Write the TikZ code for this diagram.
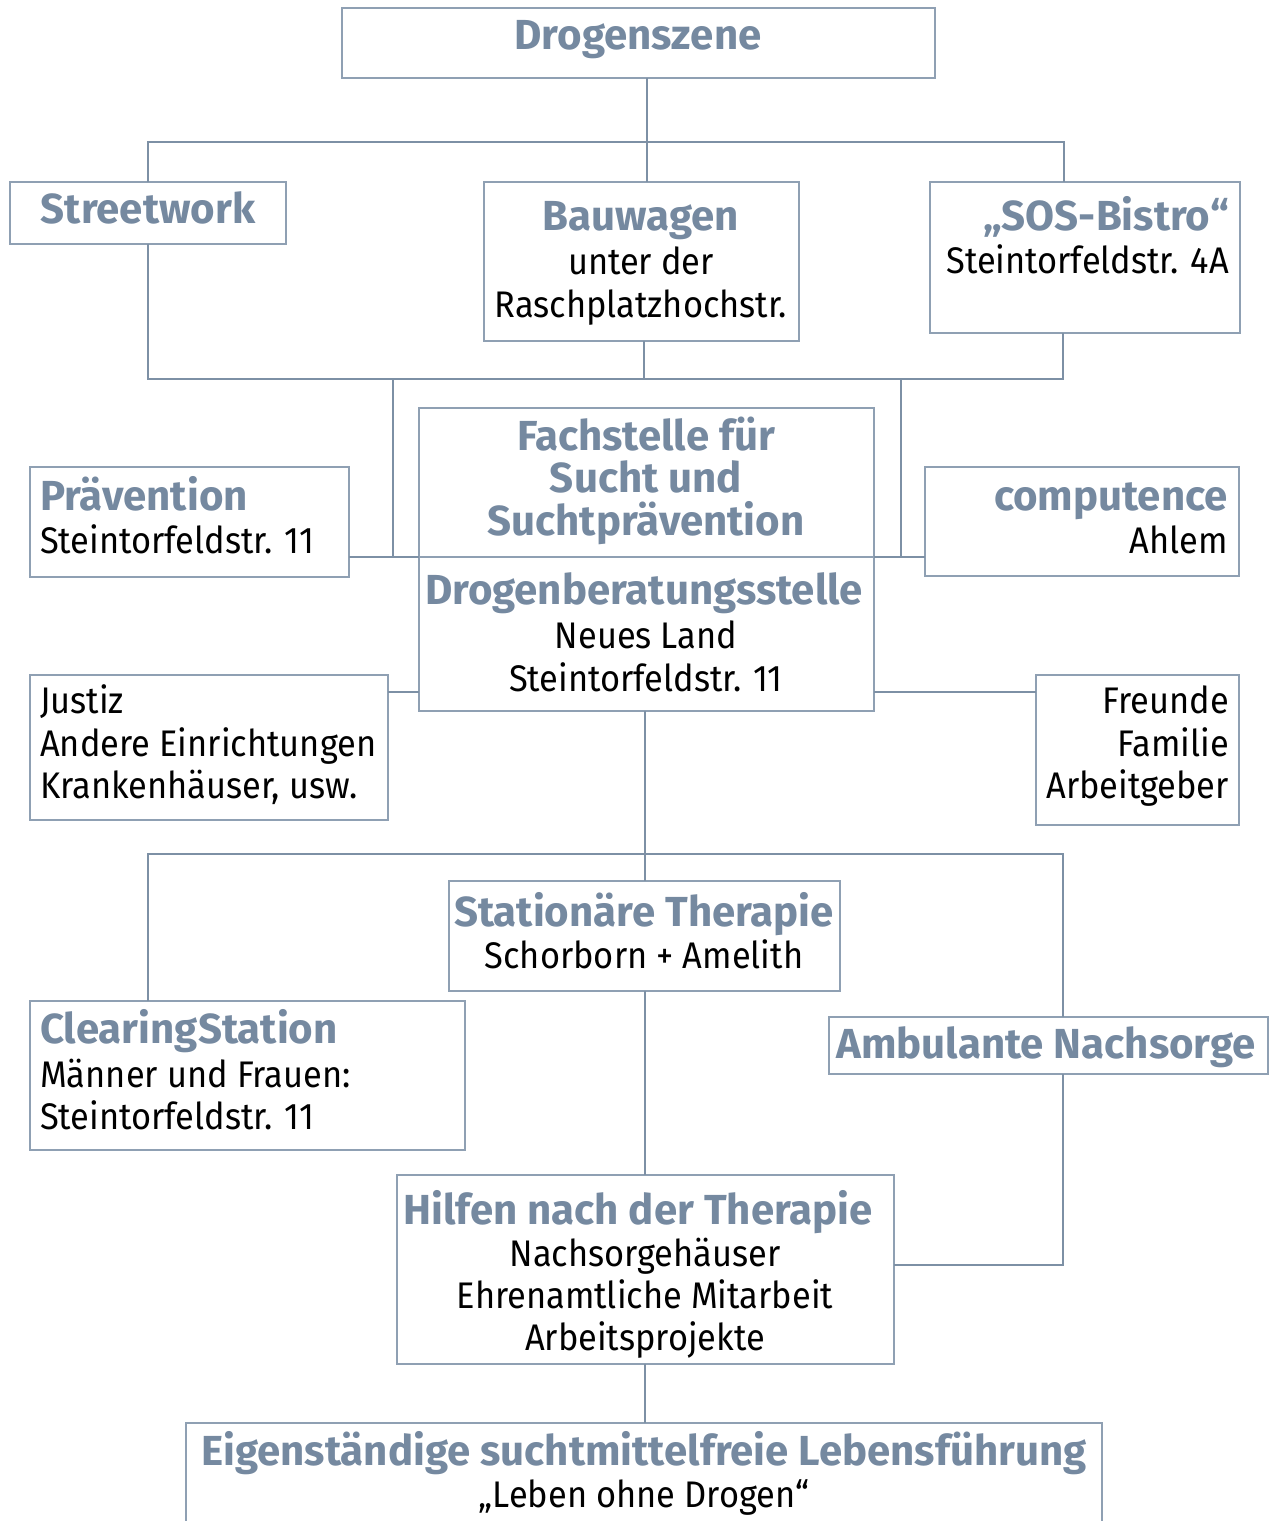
\documentclass[tikz,border=0pt]{standalone}
\usepackage{fontspec}
\setmainfont{Fira Sans}
\newfontfamily\ttlfam{Fira Sans}
\newfontfamily\txtfam[FakeStretch=0.93]{Fira Sans}
\newcommand\ttlfont{\ttlfam\bfseries\fontsize{42}{42}\selectfont}
\newcommand\txtfont{\txtfam\fontsize{37}{37}\selectfont}
\definecolor{titlec}{HTML}{7589A0}
\definecolor{linec}{HTML}{7D90A5}
\definecolor{boxc}{HTML}{8FA0B3}
\tikzset{
  box/.style={draw=boxc, line width=1.6pt, inner sep=0pt, outer sep=0pt, anchor=north west},
  conn/.style={draw=linec, line width=2.8pt},
  ttl/.style={font=\ttlfont, text=titlec, inner sep=0pt},
  txt/.style={font=\txtfont, text=black, inner sep=0pt},
}
\begin{document}
\begin{tikzpicture}[x=1pt,y=-1pt]
\useasboundingbox (0,0) rectangle (1277,1521);
% boxes
\node[box, minimum width=593, minimum height=70] (drog) at (342,8) {};
\node[box, minimum width=276, minimum height=62] (street) at (10,182) {};
\node[box, minimum width=315, minimum height=159] (bau) at (484,182) {};
\node[box, minimum width=310, minimum height=151] (sos) at (930,182) {};
\node[box, minimum width=455, minimum height=149] (fach) at (419,408) {};
\node[box, minimum width=455, minimum height=154] (berat) at (419,557) {};
\node[box, minimum width=319, minimum height=110] (praev) at (30,467) {};
\node[box, minimum width=314, minimum height=109] (comp) at (925,467) {};
\node[box, minimum width=358, minimum height=145] (justiz) at (30,675) {};
\node[box, minimum width=203, minimum height=150] (freunde) at (1036,675) {};
\node[box, minimum width=391, minimum height=110] (stat) at (449,881) {};
\node[box, minimum width=435, minimum height=149] (clear) at (30,1001) {};
\node[box, minimum width=439, minimum height=57] (amb) at (829,1017) {};
\node[box, minimum width=497, minimum height=189] (hilfen) at (397,1175) {};
\node[box, minimum width=916, minimum height=130] (eigen) at (186,1423) {};
% connector coordinates
\coordinate (t1) at (647,142);
\coordinate (busA) at (148,142);
\coordinate (busB) at (1064,142);
\coordinate (busC) at (148,379);
\coordinate (busD) at (1063,379);
\coordinate (bx) at (644,379);
\coordinate (vL) at (393,379);
\coordinate (vR) at (901,379);
\coordinate (hL) at (393,557);
\coordinate (hR) at (901,557);
\coordinate (jy) at (0,692);
\coordinate (lb) at (645,854);
\coordinate (lbL) at (148,854);
\coordinate (lbR) at (1063,854);
\coordinate (hy) at (0,1265);
% connectors
\draw[conn] (drog.south -| t1) -- (t1);
\draw[conn] (street.north) -- (busA) -- (busB) -- (busB |- sos.north);
\draw[conn] (t1) -- (t1 |- bau.north);
\draw[conn] (street.south) -- (busC) -- (busD) -- (busD |- sos.south);
\draw[conn] (bau.south -| bx) -- (bx);
\draw[conn] (vL) -- (hL);
\draw[conn] (vR) -- (hR);
\draw[conn] (praev.east |- hL) -- (fach.south west |- hL);
\draw[conn] (fach.south east |- hR) -- (comp.west |- hR);
\draw[conn] (justiz.east |- jy) -- (berat.west |- jy);
\draw[conn] (berat.east |- jy) -- (freunde.west |- jy);
\draw[conn] (berat.south -| lb) -- (lb);
\draw[conn] (clear.north -| lbL) -- (lbL) -- (lbR) -- (lbR |- amb.north);
\draw[conn] (lb) -- (lb |- stat.north);
\draw[conn] (stat.south -| lb) -- (lb |- hilfen.north);
\draw[conn] (amb.south -| lbR) -- (lbR |- hy) -- (hilfen.east |- hy);
\draw[conn] (hilfen.south -| lb) -- (lb |- eigen.north);
% texts
\node[ttl, anchor=base] (tdrog) at (638,49) {Drogenszene};
\node[ttl, anchor=base] (tstreet) at (148,223) {Streetwork};
\node[ttl, anchor=base] (tbau1) at (641,230) {Bauwagen};
\node[txt, anchor=base] (tbau2) at (641,274) {unter der};
\node[txt, anchor=base] (tbau3) at (641,317) {Raschplatzhochstr.};
\node[ttl, anchor=base east] (tsos1) at (1229,230) {„SOS-Bistro“};
\node[txt, anchor=base east] (tsos2) at (1229,273) {Steintorfeldstr. 4A};
\node[ttl, anchor=base] (tfach1) at (646,450) {Fachstelle für};
\node[ttl, anchor=base] (tfach2) at (646,492) {Sucht und};
\node[ttl, anchor=base] (tfach3) at (646,535) {Suchtprävention};
\node[ttl, anchor=base] (tber1) at (644,604) {Drogenberatungsstelle};
\node[txt, anchor=base] (tber2) at (646,648) {Neues Land};
\node[txt, anchor=base] (tber3) at (646,691) {Steintorfeldstr. 11};
\node[ttl, anchor=base west] (tpr1) at (40,510) {Prävention};
\node[txt, anchor=base west] (tpr2) at (40,553) {Steintorfeldstr. 11};
\node[ttl, anchor=base east] (tco1) at (1228,510) {computence};
\node[txt, anchor=base east] (tco2) at (1228,553) {Ahlem};
\node[txt, anchor=base west] (tju1) at (40,713) {Justiz};
\node[txt, anchor=base west] (tju2) at (40,756) {Andere Einrichtungen};
\node[txt, anchor=base west] (tju3) at (40,798) {Krankenhäuser, usw.};
\node[txt, anchor=base east] (tfr1) at (1229,713) {Freunde};
\node[txt, anchor=base east] (tfr2) at (1229,756) {Familie};
\node[txt, anchor=base east] (tfr3) at (1229,798) {Arbeitgeber};
\node[ttl, anchor=base] (tst1) at (644,926) {Stationäre Therapie};
\node[txt, anchor=base] (tst2) at (644,968) {Schorborn + Amelith};
\node[ttl, anchor=base west] (tcl1) at (40,1043) {ClearingStation};
\node[txt, anchor=base west] (tcl2) at (40,1087) {Männer und Frauen:};
\node[txt, anchor=base west] (tcl3) at (40,1129) {Steintorfeldstr. 11};
\node[ttl, anchor=base] (tam) at (1046,1058) {Ambulante Nachsorge};
\node[ttl, anchor=base] (thi1) at (638,1224) {Hilfen nach der Therapie};
\node[txt, anchor=base] (thi2) at (645,1266) {Nachsorgehäuser};
\node[txt, anchor=base] (thi3) at (645,1308) {Ehrenamtliche Mitarbeit};
\node[txt, anchor=base] (thi4) at (645,1350) {Arbeitsprojekte};
\node[ttl, anchor=base] (tei1) at (644,1465) {Eigenständige suchtmittelfreie Lebensführung};
\node[txt, anchor=base] (tei2) at (644,1507) {„Leben ohne Drogen“};
\end{tikzpicture}
\end{document}
